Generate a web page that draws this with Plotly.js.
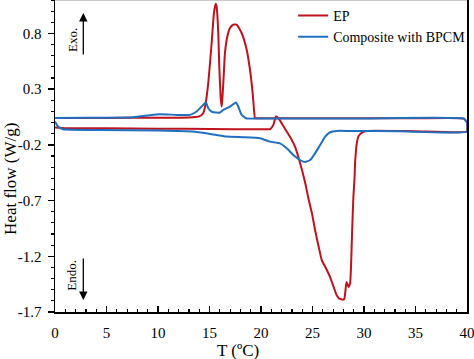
<!DOCTYPE html>
<html>
<head>
<meta charset="utf-8">
<script src="https://cdn.plot.ly/plotly-3.0.1.min.js"></script>
<style>html,body{margin:0;padding:0;background:#fff;}#chart{width:474px;height:359px;}</style>
</head>
<body>
<div id="chart"></div>
<script>
// EP: heating branch (lower curve, T ascending)
const epHeatT = [0, 1, 5, 10, 15, 20, 20.9, 21.2, 21.45, 21.7, 22.2, 22.8, 23.3, 23.8, 24.3, 24.6, 24.95, 25.25, 25.6, 25.9, 26.4, 26.7, 27.05, 27.35, 27.6, 27.95, 28.1, 28.3, 28.5, 28.65, 28.75, 28.85, 28.97, 29.07, 29.15, 29.3, 29.45, 29.8, 30.3, 35, 40];
const epHeatH = [-0.045, -0.05, -0.052, -0.055, -0.058, -0.06, -0.058, -0.021, 0.054, 0.039, -0.036, -0.126, -0.216, -0.365, -0.545, -0.68, -0.815, -0.965, -1.115, -1.235, -1.325, -1.385, -1.475, -1.55, -1.58, -1.59, -1.58, -1.43, -1.475, -1.445, -1.265, -0.965, -0.666, -0.516, -0.336, -0.186, -0.126, -0.09, -0.075, -0.077, -0.08];
// EP: cooling branch (upper curve, T descending)
const epCoolT = [40, 39.7, 35, 25, 19.6, 19.42, 19.32, 19.19, 18.93, 18.61, 18.12, 17.64, 17.3, 16.99, 16.73, 16.5, 16.34, 16.24, 16.18, 16.08, 15.95, 15.85, 15.69, 15.6, 15.43, 15.21, 14.88, 14.6, 14.39, 14.0, 13.0, 10, 5, 0];
const epCoolH = [0.0, 0.035, 0.038, 0.038, 0.038, 0.039, 0.114, 0.264, 0.474, 0.653, 0.804, 0.878, 0.878, 0.849, 0.773, 0.624, 0.354, 0.204, 0.144, 0.233, 0.503, 0.804, 1.043, 1.067, 0.983, 0.714, 0.354, 0.16, 0.084, 0.055, 0.045, 0.043, 0.042, 0.042];
// Composite with BPCM: heating branch (lower curve)
const cpHeatT = [0, 0.29, 0.78, 4.35, 10.18, 13.42, 15.04, 16.66, 18.28, 19.9, 20.87, 21.84, 22.5, 23.14, 23.79, 24.28, 24.77, 25.25, 25.74, 26.23, 26.71, 27.36, 28.5, 33.5, 40];
const cpHeatH = [0.009, -0.036, -0.06, -0.066, -0.072, -0.081, -0.102, -0.126, -0.132, -0.141, -0.171, -0.186, -0.231, -0.291, -0.336, -0.354, -0.336, -0.276, -0.201, -0.126, -0.087, -0.075, -0.075, -0.078, -0.081];
// Composite with BPCM: cooling branch (upper curve)
const cpCoolT = [40, 39.7, 30, 20, 18.61, 18.12, 17.79, 17.57, 16.99, 16.33, 16.01, 15.69, 15.2, 14.88, 14.65, 14.23, 13.75, 13.1, 11.8, 10.18, 9.2, 7.58, 3, 0];
const cpCoolH = [0.0, 0.035, 0.037, 0.037, 0.037, 0.069, 0.144, 0.18, 0.144, 0.114, 0.09, 0.09, 0.099, 0.129, 0.18, 0.144, 0.099, 0.069, 0.069, 0.075, 0.066, 0.048, 0.043, 0.042];

const seriesNames = ['EP', 'Composite with BPCM'];
const yTickVals = [-1.7, -1.2, -0.7, -0.2, 0.3, 0.8];
const yTickText = ['-1.7', '-1.2', '-0.7', '-0.2', '0.3', '0.8'];
const xTickVals = [0, 5, 10, 15, 20, 25, 30, 35, 40];

const FONT = 'Liberation Serif';
const RED = '#c0121c';
const BLUE = '#2070c2';

const traces = [
  {x: epHeatT.concat(epCoolT), y: epHeatH.concat(epCoolH), name: seriesNames[0], mode: 'lines',
   line: {color: RED, width: 2, shape: 'spline', smoothing: 0.4}},
  {x: cpHeatT.concat(cpCoolT), y: cpHeatH.concat(cpCoolH), name: seriesNames[1], mode: 'lines',
   line: {color: BLUE, width: 2, shape: 'spline', smoothing: 0.4}}
];

const layout = {
  width: 474, height: 359,
  margin: {l: 55, r: 7, t: 0, b: 47, pad: 0},
  paper_bgcolor: '#fff', plot_bgcolor: '#fff',
  font: {family: FONT, color: '#000', size: 15},
  showlegend: true,
  legend: {x: 0.578, y: 1.0, xanchor: 'left', yanchor: 'top', bgcolor: 'rgba(0,0,0,0)',
           font: {family: FONT, size: 14, color: '#000'}, tracegroupgap: 0},
  xaxis: {range: [0, 40], tickmode: 'array', tickvals: xTickVals, ticks: 'inside', ticklen: 6, tickwidth: 1.5,
          tickcolor: '#000', showline: true, linewidth: 1.5, linecolor: '#000', showgrid: false, zeroline: false,
          tickfont: {family: FONT, size: 15}, ticklabelstandoff: 6, ticklabeloverflow: 'allow',
          minor: {dtick: 1, tick0: 0, ticks: 'inside', ticklen: 3, tickwidth: 1.2, tickcolor: '#000', showgrid: false}},
  yaxis: {range: [-1.7, 1.1], tickmode: 'array', tickvals: yTickVals, ticktext: yTickText, ticks: 'outside', ticklen: 6, tickwidth: 1.5,
          tickcolor: '#000', showline: true, mirror: true, linewidth: 1.5, linecolor: '#000', showgrid: false, zeroline: false,
          tickfont: {family: FONT, size: 15}, ticklabelstandoff: 3, ticklabeloverflow: 'allow',
          minor: {dtick: 0.1, tick0: -1.7, ticks: 'outside', ticklen: 3, tickwidth: 1.2, tickcolor: '#000', showgrid: false}},
  shapes: [
    {type: 'line', xref: 'paper', yref: 'paper', x0: 0, x1: 1, y0: 1, y1: 1, line: {color: '#c8c8c8', width: 2}}
  ],
  annotations: [
    {text: 'T (ºC)', xref: 'paper', yref: 'paper', x: 0.444, y: -0.122, xanchor: 'center', yanchor: 'middle',
     showarrow: false, font: {family: FONT, size: 17}},
    {text: 'Heat flow (W/g)', xref: 'paper', yref: 'paper', x: -0.108, y: 0.425, xanchor: 'center', yanchor: 'middle',
     textangle: -90, showarrow: false, font: {family: FONT, size: 17}},
    {text: 'Exo.', xref: 'paper', yref: 'paper', x: 0.0437, y: 0.872, xanchor: 'center', yanchor: 'middle',
     textangle: -90, showarrow: false, font: {family: FONT, size: 13}},
    {text: 'Endo.', xref: 'paper', yref: 'paper', x: 0.041, y: 0.119, xanchor: 'center', yanchor: 'middle',
     textangle: -90, showarrow: false, font: {family: FONT, size: 13}},
    {text: '', xref: 'paper', yref: 'paper', x: 0.0687, y: 0.958, ax: 0, ay: 43, showarrow: true,
     arrowhead: 2, arrowsize: 1.3, arrowwidth: 1.3, arrowcolor: '#000'},
    {text: '', xref: 'paper', yref: 'paper', x: 0.0687, y: 0.0385, ax: 0, ay: -43, showarrow: true,
     arrowhead: 2, arrowsize: 1.3, arrowwidth: 1.3, arrowcolor: '#000'}
  ]
};

Plotly.newPlot('chart', traces, layout, {displayModeBar: false, staticPlot: true});
</script>
</body>
</html>
